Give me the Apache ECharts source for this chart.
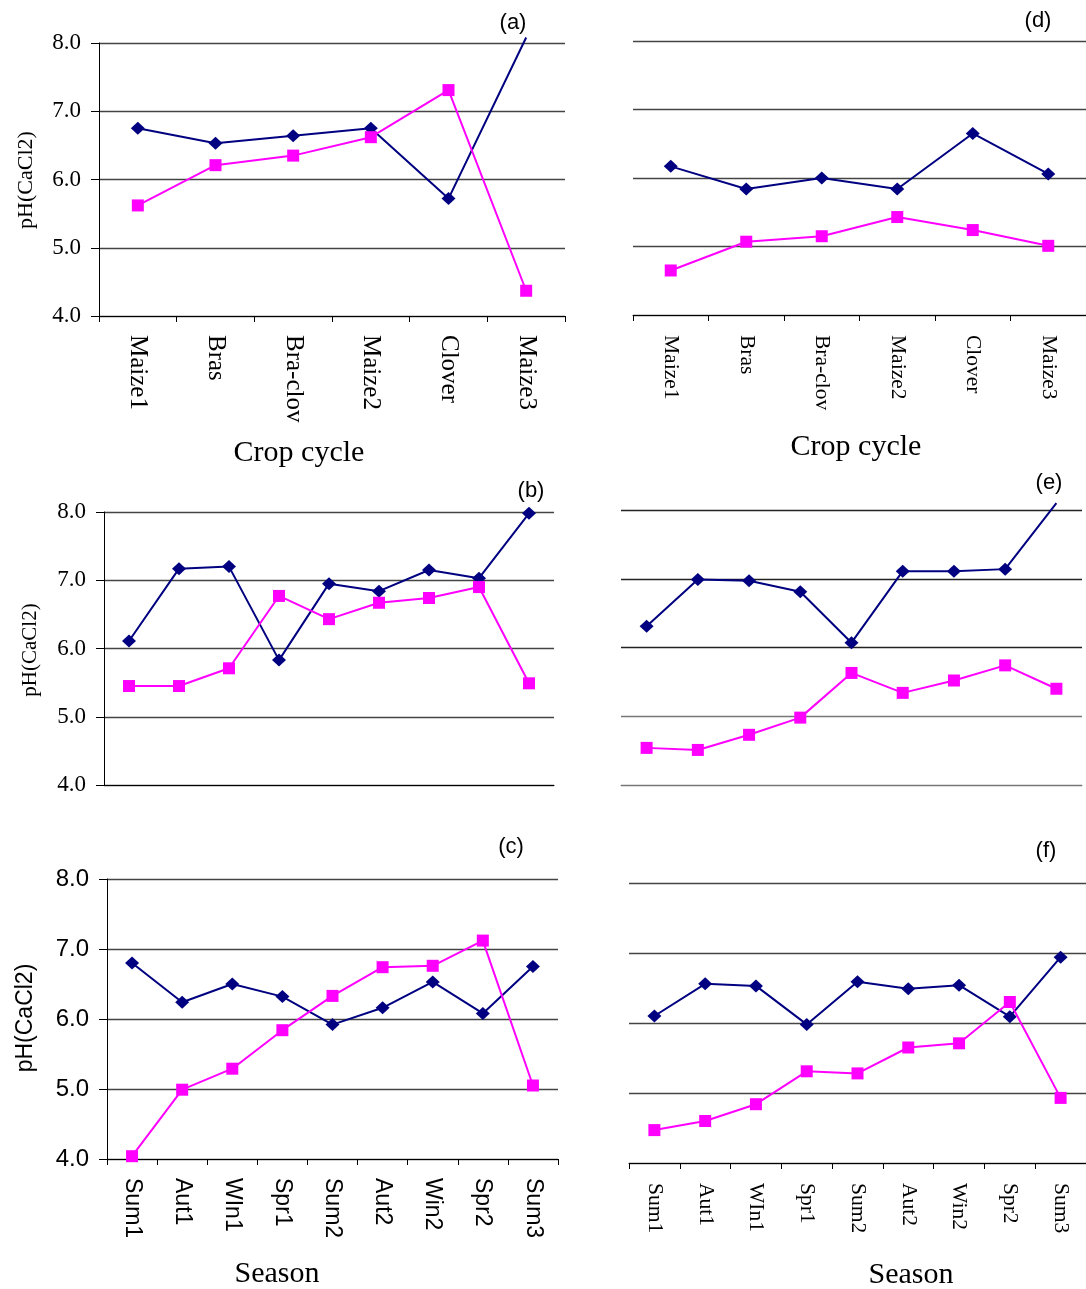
<!DOCTYPE html>
<html>
<head>
<meta charset="utf-8">
<script src="https://cdn.jsdelivr.net/npm/echarts@6/dist/echarts.min.js"></script>
<style>
html,body{margin:0;padding:0;background:#fff;}
#chart{width:1086px;height:1289px;}
</style>
</head>
<body>
<div id="chart"></div>
<script>
// ---- data ----
const cropCats = ['Maize1', 'Bras', 'Bra-clov', 'Maize2', 'Clover', 'Maize3'];
const seasonCats = ['Sum1', 'Aut1', 'WIn1', 'Spr1', 'Sum2', 'Aut2', 'Win2', 'Spr2', 'Sum3'];
const yTicks = [4, 5, 6, 7, 8];

const aBlue = [6.75, 6.53, 6.64, 6.75, 5.72, 8.08];
const aPink = [5.62, 6.21, 6.35, 6.62, 7.31, 4.37];
const dBlue = [6.17, 5.84, 6.00, 5.84, 6.65, 6.06];
const dPink = [4.65, 5.07, 5.15, 5.43, 5.24, 5.01];
const bBlue = [6.11, 7.17, 7.20, 5.83, 6.95, 6.84, 7.15, 7.03, 7.98];
const bPink = [5.45, 5.45, 5.71, 6.77, 6.43, 6.67, 6.74, 6.90, 5.49];
const eBlue = [6.31, 6.99, 6.97, 6.81, 6.07, 7.11, 7.11, 7.14, 8.10];
const ePink = [4.54, 4.51, 4.73, 4.98, 5.63, 5.34, 5.52, 5.74, 5.40];
const cBlue = [6.80, 6.24, 6.50, 6.32, 5.92, 6.16, 6.53, 6.08, 6.75];
const cPink = [4.04, 4.99, 5.29, 5.84, 6.33, 6.74, 6.76, 7.12, 5.05];
const fBlue = [6.10, 6.56, 6.53, 5.98, 6.59, 6.49, 6.54, 6.09, 6.94];
const fPink = [4.47, 4.60, 4.84, 5.31, 5.28, 5.65, 5.71, 6.30, 4.93];

// ---- layout / style ----
const SERIF = 'Liberation Serif, Times New Roman, serif';
const SANS = 'Liberation Sans, Arial, sans-serif';
const BLUE = '#000080';
const PINK = '#FF00FF';
const YMIN = yTicks[0], YMAX = yTicks[yTicks.length - 1];

const panels = [
  { cats: cropCats, blue: aBlue, pink: aPink, grid: {left: 99, top: 43, width: 466, height: 273},
    yLabels: true, yFont: SERIF, ySize: 23, yAxisLine: true, xLabels: true, xFont: SERIF, xSize: 25, xTicks: true, xMargin: 19 },
  { cats: cropCats, blue: dBlue, pink: dPink, grid: {left: 633, top: 41, width: 460, height: 274},
    yLabels: false, yAxisLine: false, xLabels: true, xFont: SERIF, xSize: 21.5, xTicks: true, xMargin: 20 },
  { cats: seasonCats, blue: bBlue, pink: bPink, grid: {left: 104, top: 512, width: 450, height: 273},
    yLabels: true, yFont: SERIF, ySize: 23, yAxisLine: true, xLabels: false, xTicks: false },
  { cats: seasonCats, blue: eBlue, pink: ePink, grid: {left: 621, top: 510, width: 461, height: 275},
    yLabels: false, yAxisLine: false, xLabels: false, xTicks: false, xLineColor: '#777',
    splitColors: ['#777', '#777', '#222', '#222', '#222'] },
  { cats: seasonCats, blue: cBlue, pink: cPink, grid: {left: 107, top: 879, width: 451, height: 280},
    yLabels: true, yFont: SANS, ySize: 24, yAxisLine: true, xLabels: true, xFont: SANS, xSize: 23, xTicks: true, xMargin: 19 },
  { cats: seasonCats, blue: fBlue, pink: fPink, grid: {left: 629, top: 883, width: 464, height: 280},
    yLabels: false, yAxisLine: false, xLabels: true, xFont: SERIF, xSize: 21.5, xTicks: true, xMargin: 20 }
];

const grids = [], xAxes = [], yAxes = [], series = [];
panels.forEach((p, i) => {
  grids.push(Object.assign({containLabel: false}, p.grid));
  xAxes.push({
    type: 'category', gridIndex: i, data: p.cats, boundaryGap: true,
    axisLine: {show: true, lineStyle: {color: p.xLineColor || '#000', width: 1}},
    axisTick: {show: p.xTicks, length: 6, lineStyle: {color: '#000'}},
    axisLabel: {show: p.xLabels, rotate: -90, interval: 0, margin: p.xMargin || 8,
      fontFamily: p.xFont, fontSize: p.xSize, color: '#000'},
    splitLine: {show: false}
  });
  yAxes.push({
    type: 'value', gridIndex: i, min: YMIN, max: YMAX, interval: 1,
    axisLine: {show: p.yAxisLine, lineStyle: {color: '#000', width: 1}},
    axisTick: {show: p.yAxisLine, length: 8, lineStyle: {color: '#000'}},
    axisLabel: {show: p.yLabels, margin: 18, fontFamily: p.yFont, fontSize: p.ySize, color: '#000',
      formatter: v => v.toFixed(1)},
    splitLine: {show: true, lineStyle: {color: p.splitColors || '#444', width: 1.3}}
  });
  const mk = vals => vals.map(v => v > YMAX ? {value: v, symbol: 'none'} : v);
  series.push({
    type: 'line', xAxisIndex: i, yAxisIndex: i, data: mk(p.blue), clip: false,
    symbol: 'diamond', symbolSize: [14, 13], showAllSymbol: true,
    lineStyle: {color: BLUE, width: 2}, itemStyle: {color: BLUE}, z: 3
  });
  series.push({
    type: 'line', xAxisIndex: i, yAxisIndex: i, data: mk(p.pink), clip: false,
    symbol: 'rect', symbolSize: 12, showAllSymbol: true,
    lineStyle: {color: PINK, width: 2}, itemStyle: {color: PINK}, z: 4
  });
});

function txt(text, x, y, font, rot) {
  return {type: 'text', x: x, y: y, rotation: rot || 0,
    style: {text: text, font: font, fill: '#000', align: 'center', verticalAlign: 'middle'}};
}
const graphics = [
  txt('(a)', 513, 23, '22px ' + SANS),
  txt('(d)', 1038, 21, '22px ' + SANS),
  txt('(b)', 531, 491, '22px ' + SANS),
  txt('(e)', 1049, 483, '22px ' + SANS),
  txt('(c)', 511, 847, '22px ' + SANS),
  txt('(f)', 1046, 851, '22px ' + SANS),
  txt('Crop cycle', 299, 453, '30px ' + SERIF),
  txt('Crop cycle', 856, 447, '30px ' + SERIF),
  txt('Season', 277, 1274, '30px ' + SERIF),
  txt('Season', 911, 1275, '30px ' + SERIF),
  txt('pH(CaCl2)', 26, 180, '22px ' + SERIF, Math.PI / 2),
  txt('pH(CaCl2)', 30, 650, '21px ' + SERIF, Math.PI / 2),
  txt('pH(CaCl2)', 26, 1018, '23px ' + SANS, Math.PI / 2)
];

const chart = echarts.init(document.getElementById('chart'), null, {renderer: 'canvas'});
chart.setOption({
  animation: false,
  backgroundColor: '#fff',
  grid: grids, xAxis: xAxes, yAxis: yAxes, series: series,
  graphic: graphics
});
</script>
</body>
</html>
